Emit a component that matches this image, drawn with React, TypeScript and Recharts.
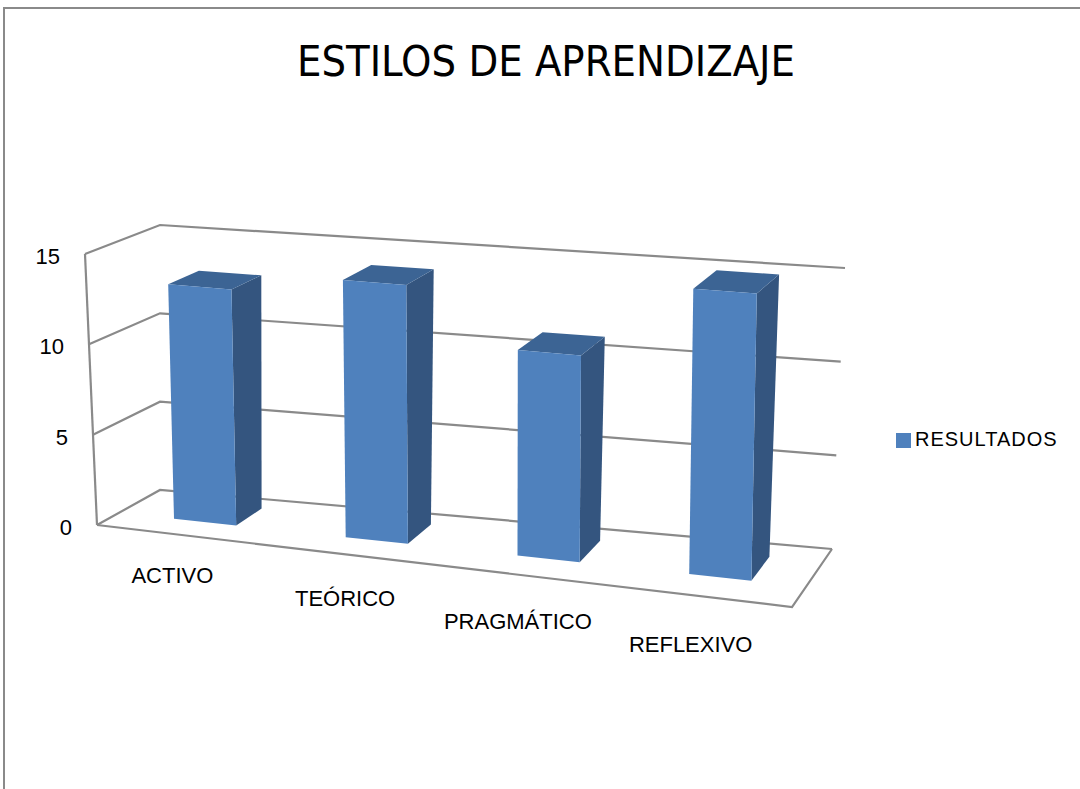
import { Bar, BarChart, CartesianGrid, Legend, XAxis, YAxis } from "recharts";

const categories = ["ACTIVO", "TEÓRICO", "PRAGMÁTICO", "REFLEXIVO"];
const resultados = [13, 14, 11, 15];
const yTicks = [0, 5, 10, 15];
const seriesName = "RESULTADOS";
const title = "ESTILOS DE APRENDIZAJE";

const data = categories.map((name, i) => ({ name, [seriesName]: resultados[i] }));

// plot rect that recharts lays out (back wall of the 3d box)
const PLOT = { left: 160, top: 225, width: 685, height: 265 };

type Pt = [number, number];
type Quad = { tl: Pt; tr: Pt; bl: Pt; br: Pt };

// corners of the back wall and of the front plane, in screen px
const BACK: Quad = { tl: [160, 225], tr: [845, 268], bl: [160, 490], br: [832, 549] };
const FRONT: Quad = { tl: [85, 254], tr: [795, 314], bl: [97, 525], br: [792, 607] };

const D_FRONT = 0.65;
const D_BACK = 0.22;

const FONT = "'Liberation Sans', Arial, sans-serif";
const GRID = "#8a8a8a";

const bilerp = (q: Quad, u: number, v: number): Pt => [
  (1 - u) * (1 - v) * q.tl[0] + u * (1 - v) * q.tr[0] + (1 - u) * v * q.bl[0] + u * v * q.br[0],
  (1 - u) * (1 - v) * q.tl[1] + u * (1 - v) * q.tr[1] + (1 - u) * v * q.bl[1] + u * v * q.br[1],
];

const proj = (u: number, v: number, d: number): Pt => {
  const b = bilerp(BACK, u, v);
  const f = bilerp(FRONT, u, v);
  return [b[0] + (f[0] - b[0]) * d, b[1] + (f[1] - b[1]) * d];
};

const toU = (px: number) => (px - PLOT.left) / PLOT.width;
const toV = (py: number) => (py - PLOT.top) / PLOT.height;

const pts = (list: Pt[]) => list.map((p) => `${p[0].toFixed(1)},${p[1].toFixed(1)}`).join(" ");

const Bar3D = (props: any) => {
  const { x, y, width, height } = props;
  const u0 = toU(x);
  const u1 = toU(x + width);
  const v0 = toV(y);
  const v1 = toV(y + height);
  const front = [proj(u0, v0, D_FRONT), proj(u1, v0, D_FRONT), proj(u1, v1, D_FRONT), proj(u0, v1, D_FRONT)];
  const side = [proj(u1, v0, D_FRONT), proj(u1, v0, D_BACK), proj(u1, v1, D_BACK), proj(u1, v1, D_FRONT)];
  const top = [proj(u0, v0, D_FRONT), proj(u0, v0, D_BACK), proj(u1, v0, D_BACK), proj(u1, v0, D_FRONT)];
  return (
    <g>
      <polygon points={pts(side)} fill="#34557f" />
      <polygon points={pts(top)} fill="#3c6494" />
      <polygon points={pts(front)} fill="#4f81bd" />
    </g>
  );
};

const gridLine = (props: any) => {
  const v = toV(props.y1);
  const line = [proj(0, v, 1), proj(0, v, 0), proj(1, v, 0)];
  const isFloor = Math.abs(v - 1) < 0.01;
  return (
    <g key={`grid-${props.index}-${props.y1}`}>
      <polyline points={pts(line)} fill="none" stroke={GRID} strokeWidth={2.2} />
      {isFloor && (
        <>
          <polyline
            points={pts([proj(0, 1, 1), proj(1, 1, 1), proj(1, 1, 0)])}
            fill="none"
            stroke={GRID}
            strokeWidth={2.2}
          />
          <line
            x1={proj(0, 0, 1)[0]}
            y1={proj(0, 0, 1)[1]}
            x2={proj(0, 1, 1)[0]}
            y2={proj(0, 1, 1)[1]}
            stroke={GRID}
            strokeWidth={2.2}
          />
        </>
      )}
    </g>
  );
};

const YTick = (props: any) => {
  const { y, payload } = props;
  const p = proj(0, toV(y), 1);
  return (
    <text x={p[0] - 25} y={p[1] + 10} textAnchor="end" fontSize={22} fill="#000" fontFamily={FONT}>
      {payload.value}
    </text>
  );
};

const XTick = (props: any) => {
  const { x, payload } = props;
  const u = toU(x);
  const p = proj(u, 1, 1);
  return (
    <text x={p[0] - 11 - 4 * u} y={p[1] + 46 + 10 * u} textAnchor="middle" fontSize={22} fill="#000" fontFamily={FONT}>
      {payload.value}
    </text>
  );
};

export default function App() {
  return (
    <div style={{ position: "absolute", left: 0, top: 0, width: 1080, height: 789, background: "#fff", fontFamily: FONT }}>
      <div
        style={{
          position: "absolute",
          left: 3,
          top: 7,
          width: 1100,
          height: 800,
          borderLeft: `2px solid ${GRID}`,
          borderTop: `2px solid ${GRID}`,
        }}
      />
      <div
        style={{
          position: "absolute",
          left: 0,
          width: 1092,
          top: 39,
          textAlign: "center",
          fontSize: 43,
          lineHeight: "44px",
          fontFamily: "'Liberation Sans Narrow', 'DejaVu Sans Condensed', sans-serif",
          color: "#000",
        }}
      >
        {title}
      </div>
      <div style={{ position: "absolute", left: 0, top: 0 }}>
        <BarChart
          width={1080}
          height={789}
          data={data}
          margin={{ top: PLOT.top, right: 1080 - PLOT.left - PLOT.width, left: 0, bottom: 789 - PLOT.top - PLOT.height - 30 }}
          barCategoryGap="32%"
        >
          <CartesianGrid vertical={false} horizontal={gridLine} />
          <XAxis dataKey="name" height={30} axisLine={false} tickLine={false} interval={0} tick={<XTick />} />
          <YAxis
            width={PLOT.left}
            domain={[0, 15]}
            ticks={yTicks}
            axisLine={false}
            tickLine={false}
            tick={<YTick />}
          />
          <Legend
            layout="vertical"
            align="center"
            verticalAlign="middle"
            iconType="square"
            iconSize={15}
            formatter={(value) => <span style={{ color: "#000" }}>{value}</span>}
            wrapperStyle={{ left: 896, top: 429, width: 184, fontSize: 20, letterSpacing: 1, lineHeight: "20px", textAlign: "left" }}
          />
          <Bar dataKey={seriesName} fill="#4f81bd" shape={<Bar3D />} isAnimationActive={false} />
        </BarChart>
      </div>
    </div>
  );
}
